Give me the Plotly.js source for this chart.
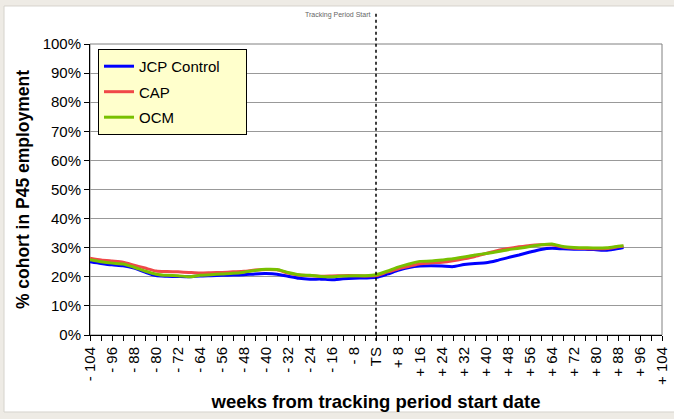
<!DOCTYPE html>
<html>
<head>
<meta charset="utf-8">
<script src="https://cdn.plot.ly/plotly-3.0.1.min.js"></script>
<style>html,body{margin:0;padding:0;background:#fff;}#chart{width:674px;height:419px;}</style>
</head>
<body>
<div id="chart"></div>
<script>
var weeks = [-104,-100,-96,-92,-88,-84,-80,-76,-72,-68,-64,-60,-56,-52,-48,-44,-40,-36,-32,-28,-24,-20,-16,-12,-8,-4,0,4,8,12,16,20,24,28,32,36,40,44,48,52,56,60,64,68,72,76,80,84,88,90];
var jcpControl = [25.2,24.6,24.1,23.8,23.0,21.6,20.4,20.2,20.1,20.0,20.3,20.4,20.5,20.6,20.7,21.0,21.1,20.9,20.2,19.5,19.2,19.2,19.0,19.3,19.5,19.6,19.8,20.9,22.2,23.2,23.7,23.8,23.7,23.5,24.2,24.6,24.8,25.6,26.6,27.5,28.5,29.4,29.8,29.6,29.5,29.5,29.3,29.1,29.7,30.1];
var cap = [26.4,25.8,25.4,25.0,24.0,23.0,22.0,21.8,21.7,21.5,21.3,21.4,21.5,21.7,21.9,22.3,22.5,22.4,21.3,20.6,20.4,20.2,20.3,20.4,20.4,20.3,20.4,21.6,22.7,23.6,24.5,24.8,25.0,25.5,26.2,27.0,28.0,29.0,29.7,30.3,30.8,31.0,31.0,30.2,29.8,29.7,29.6,29.7,30.3,30.5];
var ocm = [25.9,25.2,24.7,24.4,23.3,22.0,20.9,20.5,20.4,20.0,20.5,20.7,21.0,21.2,21.6,22.2,22.6,22.5,21.5,20.7,20.5,20.1,20.0,20.3,20.4,20.4,20.7,21.9,23.3,24.4,25.3,25.4,25.8,26.2,26.8,27.5,28.0,28.6,29.3,29.8,30.4,31.0,31.3,30.4,30.1,30.0,29.9,30.0,30.5,30.7];
var seriesNames = ['JCP Control','CAP','OCM'];
var tickWeeks = [-104,-96,-88,-80,-72,-64,-56,-48,-40,-32,-24,-16,-8,0,8,16,24,32,40,48,56,64,72,80,88,96,104];
var tickLabels = ['- 104','- 96','- 88','- 80','- 72','- 64','- 56','- 48','- 40','- 32','- 24','- 16','- 8','TS','+ 8','+ 16','+ 24','+ 32','+ 40','+ 48','+ 56','+ 64','+ 72','+ 80','+ 88','+ 96','+ 104'];
var yTicks = [0,10,20,30,40,50,60,70,80,90,100];

var colors = ['#0000ff','#f04848','#78c000'];
var vals = [jcpControl, cap, ocm];
var pad = '\u00a0\u00a0\u00a0\u00a0\u00a0';
var traces = vals.map(function(v,i){
  return {x: weeks, y: v, name: seriesNames[i] + (i===0 ? pad : ''), type:'scatter', mode:'lines',
    legendgroup: 'g'+i,
    line:{color: colors[i], width:3, shape:'spline', smoothing:0.6}};
});

var F = 'Arial, "Liberation Sans", sans-serif';
var layout = {
  width:674, height:419,
  margin:{l:90, r:12, t:44, b:84},
  paper_bgcolor:'#eeebe5',
  plot_bgcolor:'rgba(0,0,0,0)',
  font:{family:F, size:15, color:'#000'},
  showlegend:true,
  legend:{x:0.014, y:0.983, xanchor:'left', yanchor:'top', bgcolor:'#ffffcc',
    bordercolor:'#000', borderwidth:1, font:{family:F, size:15, color:'#000'},
    traceorder:'grouped', tracegroupgap:3, itemwidth:30},
  xaxis:{range:[-104,104], tickmode:'array', tickvals:tickWeeks, ticktext:tickLabels,
    tickangle:-90, ticks:'outside', ticklen:5, tickcolor:'#000', tickwidth:1,
    showline:true, linecolor:'#000', linewidth:1, showgrid:false, zeroline:false,
    tickfont:{family:F, size:15},
    minor:{dtick:4, tick0:0, ticks:'outside', ticklen:5, tickcolor:'#000', showgrid:false},
    title:{text:'<b>weeks from tracking period start date</b>', font:{family:F, size:18.5}, standoff:11}},
  yaxis:{range:[0,100], tickmode:'array', tickvals:yTicks, ticktext:yTicks.map(function(t){return t+'%';}),
    ticks:'outside', ticklen:5, tickcolor:'#000', showline:true, linecolor:'#000', linewidth:1,
    showgrid:true, gridcolor:'#999', gridwidth:1, zeroline:false,
    tickfont:{family:F, size:15},
    title:{text:'<b>% cohort in P45 employment</b>', font:{family:F, size:17.5}, standoff:8}},
  shapes:[
    {type:'rect', xref:'paper', yref:'paper', x0:-0.1503, x1:1.04, y0:-0.2646, y1:1.1306,
      fillcolor:'#ffffff', line:{color:'#d6d3cd', width:1}, layer:'below'},
    {type:'rect', xref:'paper', yref:'paper', x0:0, x1:1, y0:0, y1:1,
      fillcolor:'rgba(0,0,0,0)', line:{color:'#808080', width:1}, layer:'below'},
    {type:'line', xref:'x', yref:'paper', x0:0, x1:0, y0:-0.02, y1:1.11,
      line:{color:'#000', width:1.5, dash:'dot'}}
  ],
  annotations:[
    {xref:'x', yref:'paper', x:-1.2, y:1.1, xanchor:'right', yanchor:'middle', showarrow:false,
      text:'Tracking Period Start', font:{family:F, size:7, color:'#666'}}
  ]
};
Plotly.newPlot('chart', traces, layout, {displayModeBar:false, staticPlot:true});
</script>
</body>
</html>
